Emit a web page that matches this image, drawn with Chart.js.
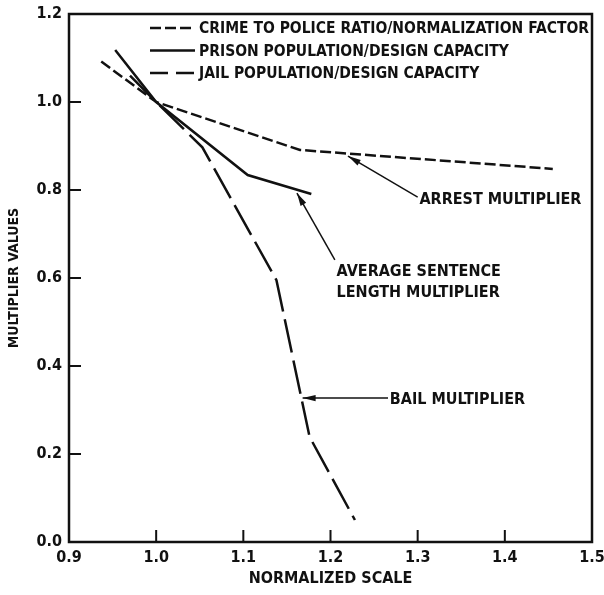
<!DOCTYPE html>
<html>
<head>
<meta charset="utf-8">
<script src="https://cdn.jsdelivr.net/npm/chart.js@4.4.1/dist/chart.umd.min.js"></script>
<style>
  html, body { margin: 0; padding: 0; background: #fff; }
  #wrap { width: 604px; height: 595px; position: relative; }
</style>
</head>
<body>
<div id="wrap"><canvas id="chart"></canvas></div>
<script>
// series (x = normalized scale, y = multiplier)
const crimeX = [0.937, 1.0, 1.165, 1.455];
const crimeY = [1.092, 1.0, 0.891, 0.848];

const prisonX = [0.953, 1.0, 1.105, 1.178];
const prisonY = [1.118, 1.0, 0.834, 0.791];

const jailX = [0.97, 1.0, 1.053, 1.138, 1.176, 1.228];
const jailY = [1.06, 1.0, 0.897, 0.595, 0.239, 0.05];

const seriesLabels = [
  "CRIME TO POLICE RATIO/NORMALIZATION FACTOR",
  "PRISON POPULATION/DESIGN CAPACITY",
  "JAIL POPULATION/DESIGN CAPACITY",
];

const xTicks = [0.9, 1.0, 1.1, 1.2, 1.3, 1.4, 1.5];
const yTicks = [0.0, 0.2, 0.4, 0.6, 0.8, 1.0, 1.2];

// callouts, in data units
const callouts = [
  { lines: ["ARREST MULTIPLIER"], tip: [1.22, 0.877], tail: [1.30, 0.784], text: [1.302, 0.777] },
  { lines: ["AVERAGE SENTENCE", "LENGTH MULTIPLIER"], tip: [1.1615, 0.793], tail: [1.205, 0.641], text: [1.207, 0.614] },
  { lines: ["BAIL MULTIPLIER"], tip: [1.168, 0.327], tail: [1.266, 0.327], text: [1.268, 0.323] },
];

const INK = "#111";
const FONT = "'Liberation Sans Narrow', 'DejaVu Sans Condensed', sans-serif";

const toPoints = (xs, ys) => xs.map((x, i) => ({ x: x, y: ys[i] }));

const framePlugin = {
  id: "frame",
  afterDatasetsDraw(chart) {
    const { ctx, chartArea: a, scales } = chart;
    ctx.save();
    ctx.strokeStyle = INK;
    ctx.lineWidth = 2.5;
    ctx.strokeRect(a.left, a.top, a.right - a.left, a.bottom - a.top);
    ctx.lineWidth = 2;
    ctx.beginPath();
    xTicks.slice(1, -1).forEach((v) => {
      const px = scales.x.getPixelForValue(v);
      ctx.moveTo(px, a.bottom);
      ctx.lineTo(px, a.bottom - 12);
    });
    yTicks.slice(1, -1).forEach((v) => {
      const py = scales.y.getPixelForValue(v);
      ctx.moveTo(a.left, py);
      ctx.lineTo(a.left + 12, py);
    });
    ctx.stroke();
    ctx.restore();
  },
};

const legendPlugin = {
  id: "dashLegend",
  afterDraw(chart) {
    const { ctx } = chart;
    ctx.save();
    ctx.font = "bold 15.5px " + FONT;
    ctx.fillStyle = INK;
    ctx.textBaseline = "middle";
    chart.data.datasets.forEach((ds, i) => {
      const y = 28 + i * 22.5;
      ctx.strokeStyle = INK;
      ctx.lineWidth = 2.5;
      ctx.setLineDash(i === 0 ? [11, 4] : i === 2 ? [18, 8] : []);
      ctx.beginPath();
      ctx.moveTo(150, y);
      ctx.lineTo(195, y);
      ctx.stroke();
      ctx.setLineDash([]);
      ctx.fillText(ds.label, 199, y + 1);
    });
    ctx.restore();
  },
};

const calloutPlugin = {
  id: "callouts",
  afterDraw(chart) {
    const { ctx, scales } = chart;
    const px = (p) => [scales.x.getPixelForValue(p[0]), scales.y.getPixelForValue(p[1])];
    ctx.save();
    ctx.strokeStyle = INK;
    ctx.fillStyle = INK;
    ctx.font = "bold 16px " + FONT;
    ctx.textBaseline = "middle";
    callouts.forEach((c) => {
      const [tx, ty] = px(c.tip);
      const [lx, ly] = px(c.tail);
      ctx.lineWidth = 1.5;
      ctx.beginPath();
      ctx.moveTo(lx, ly);
      ctx.lineTo(tx, ty);
      ctx.stroke();
      const ang = Math.atan2(ly - ty, lx - tx);
      const len = 13, half = 3.2;
      ctx.beginPath();
      ctx.moveTo(tx, ty);
      ctx.lineTo(tx + len * Math.cos(ang) - half * Math.sin(ang), ty + len * Math.sin(ang) + half * Math.cos(ang));
      ctx.lineTo(tx + len * Math.cos(ang) + half * Math.sin(ang), ty + len * Math.sin(ang) - half * Math.cos(ang));
      ctx.closePath();
      ctx.fill();
      const [sx, sy] = px(c.text);
      c.lines.forEach((t, k) => ctx.fillText(t, sx, sy + k * 21));
    });
    ctx.restore();
  },
};

const lineStyle = { borderColor: INK, borderWidth: 2.5, pointRadius: 0, tension: 0, fill: false };

new Chart(document.getElementById("chart"), {
  type: "line",
  data: {
    datasets: [
      { ...lineStyle, label: seriesLabels[0], data: toPoints(crimeX, crimeY), borderDash: [11, 4] },
      { ...lineStyle, label: seriesLabels[1], data: toPoints(prisonX, prisonY) },
      { ...lineStyle, label: seriesLabels[2], data: toPoints(jailX, jailY), borderDash: [34, 8] },
    ],
  },
  options: {
    responsive: true,
    maintainAspectRatio: false,
    animation: false,
    layout: { padding: { top: 14, right: 12, left: 0, bottom: 0 } },
    plugins: { legend: { display: false }, tooltip: { enabled: false } },
    scales: {
      x: {
        type: "linear",
        min: 0.9,
        max: 1.5,
        afterBuildTicks: (s) => { s.ticks = xTicks.map((v) => ({ value: v })); },
        afterFit: (s) => { s.height = 53; s.paddingRight = 0; s.paddingLeft = 0; },
        grid: { display: false, drawTicks: false },
        border: { display: false },
        ticks: {
          padding: 6,
          color: INK,
          font: { family: FONT, size: 16, weight: "bold" },
          maxRotation: 0,
          callback: (v) => Number(v).toFixed(1),
        },
        title: {
          display: true,
          text: "NORMALIZED SCALE",
          color: INK,
          font: { family: FONT, size: 16, weight: "bold" },
          padding: { top: 0, bottom: 7 },
        },
      },
      y: {
        min: 0,
        max: 1.2,
        afterBuildTicks: (s) => { s.ticks = yTicks.map((v) => ({ value: v })); },
        afterFit: (s) => { s.width = 69; s.paddingTop = 0; s.paddingBottom = 0; },
        grid: { display: false, drawTicks: false },
        border: { display: false },
        ticks: {
          padding: 7,
          color: INK,
          font: { family: FONT, size: 16, weight: "bold" },
          callback: (v) => Number(v).toFixed(1),
        },
        title: {
          display: true,
          text: "MULTIPLIER VALUES",
          color: INK,
          font: { family: FONT, size: 14, weight: "bold" },
          padding: { top: 6, bottom: 0 },
        },
      },
    },
  },
  plugins: [framePlugin, legendPlugin, calloutPlugin],
});
</script>
</body>
</html>
